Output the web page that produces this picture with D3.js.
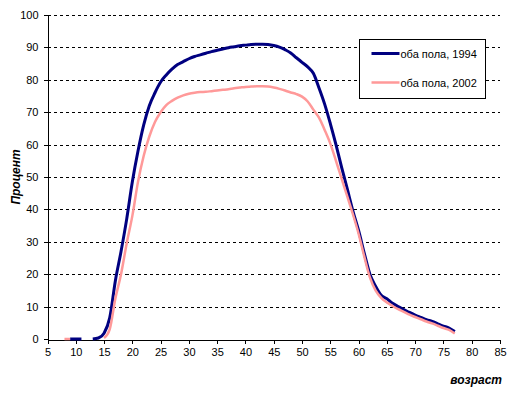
<!DOCTYPE html>
<html>
<head>
<meta charset="utf-8">
<script src="https://cdn.jsdelivr.net/npm/d3@7"></script>
<style>
  body { margin: 0; background: #fff; }
  text { font-family: "Liberation Sans", Arial, sans-serif; }
</style>
</head>
<body>
<svg id="chart" width="513" height="398"></svg>
<script>
// ages 8..77, null = gap in the series
const ages = d3.range(8, 78);
const both1994 = [null, 0, 0, 0, null, 0, 0.3, 1.8, 6.5, 18, 27, 37, 48.5, 58, 66, 72, 76, 79.3, 81.5, 83.3,
  84.7, 85.6, 86.5, 87.2, 87.7, 88.2, 88.7, 89.1, 89.5, 89.9, 90.2, 90.5, 90.7, 90.9, 91.0, 91.0, 90.9, 90.6, 90.1, 89.3,
  88.3, 86.8, 85.4, 84, 82, 77.5, 72.5, 66.5, 60, 53, 46.3, 39.5, 33.5, 26.5, 20, 16.3, 13.5, 12.4, 11, 10,
  9.1, 8.2, 7.4, 6.7, 6, 5.4, 4.7, 4.0, 3.4, 2.3];
const both2002 = [0, 0, null, null, null, null, null, 0.3, 3, 12.5, 20, 29.5, 38, 48.5, 56.5, 62.5, 67, 70, 72.2, 73.5,
  74.5, 75.2, 75.7, 76.0, 76.2, 76.3, 76.5, 76.7, 76.9, 77.1, 77.4, 77.6, 77.8, 77.9, 78.0, 78.0, 77.9, 77.6, 77.2, 76.7,
  76.1, 75.6, 74.8, 73.3, 70.8, 68.3, 64.5, 60.3, 55, 49.5, 44, 38.5, 32.5, 25.5, 19, 15, 12.7, 11.3, 10.2, 9.2,
  8.4, 7.5, 6.8, 6.1, 5.4, 4.8, 4.1, 3.4, 2.8, 1.7];
const xTicks = d3.range(5, 90, 5);
const yTicks = d3.range(0, 110, 10);
const seriesNames = ["оба пола, 1994", "оба пола, 2002"];
const seriesColors = ["#000080", "#ff9999"];

const svg = d3.select("#chart");
const margin = {top: 15, left: 47.5, right: 13, bottom: 59};
const width = 513, height = 398;

const x = d3.scaleLinear().domain([5, 85]).range([margin.left, width - margin.right]);
const y = d3.scaleLinear().domain([0, 100]).range([height - margin.bottom, margin.top]);

// dashed gridlines
svg.append("g")
    .selectAll("line")
    .data(yTicks.filter(d => d > 0))
    .enter().append("line")
    .attr("x1", x(5)).attr("x2", x(85))
    .attr("y1", d => Math.round(y(d)) + 0.5).attr("y2", d => Math.round(y(d)) + 0.5)
    .attr("stroke", "#000")
    .attr("stroke-dasharray", "3,3")
    .attr("shape-rendering", "crispEdges");

// axes
const yAxis = svg.append("g")
    .attr("transform", "translate(" + x(5) + ",0)")
    .call(d3.axisLeft(y).tickValues(yTicks).tickSize(4).tickPadding(5));

const xAxis = svg.append("g")
    .attr("transform", "translate(0," + (Math.round(y(0)) + 0.5) + ")")
    .call(d3.axisBottom(x).tickValues(xTicks).tickSize(4).tickPadding(5));

[xAxis, yAxis].forEach(g => {
    g.select(".domain").attr("stroke", "#000").attr("shape-rendering", "crispEdges");
    g.selectAll(".tick line").attr("stroke", "#000").attr("shape-rendering", "crispEdges");
    g.selectAll("text").attr("font-size", 11).attr("fill", "#000")
        .attr("font-family", "'Liberation Sans', Arial, sans-serif");
});

// lines
const line = d3.line()
    .defined(d => d.v !== null)
    .curve(d3.curveMonotoneX)
    .x(d => x(d.age))
    .y(d => y(d.v));

[both1994, both2002].forEach((vals, i) => {
    svg.append("path")
        .datum(ages.map((a, j) => ({age: a, v: vals[j]})))
        .attr("fill", "none")
        .attr("stroke", seriesColors[i])
        .attr("stroke-width", i === 0 ? 3 : 2.5)
        .attr("stroke-linejoin", "round")
        .attr("d", line);
});

// legend
const legend = svg.append("g").attr("transform", "translate(359.5,39.5)");
legend.append("rect")
    .attr("width", 126).attr("height", 59)
    .attr("fill", "#fff").attr("stroke", "#000");
seriesNames.forEach((name, i) => {
    const ly = 14 + i * 29;
    legend.append("line")
        .attr("x1", 12).attr("x2", 40)
        .attr("y1", ly).attr("y2", ly)
        .attr("stroke", seriesColors[i])
        .attr("stroke-width", i === 0 ? 3 : 2.5);
    legend.append("text")
        .attr("x", 41).attr("y", ly + 4)
        .attr("font-size", 11)
        .text(name);
});

// axis titles
svg.append("text")
    .attr("transform", "translate(20,177) rotate(-90)")
    .attr("text-anchor", "middle")
    .attr("font-size", 12)
    .attr("font-weight", "bold")
    .attr("font-style", "italic")
    .text("Процент");

svg.append("text")
    .attr("x", 502).attr("y", 384)
    .attr("text-anchor", "end")
    .attr("font-size", 12)
    .attr("font-weight", "bold")
    .attr("font-style", "italic")
    .text("возраст");
</script>
</body>
</html>
